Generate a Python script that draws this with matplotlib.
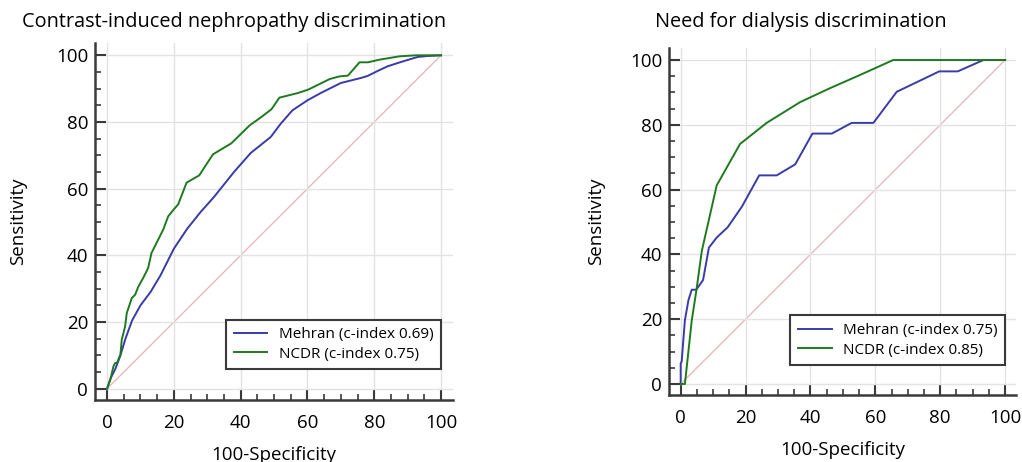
import matplotlib.pyplot as plt
import numpy as np

plt.rcParams['font.family'] = ['Open Sans', 'DejaVu Sans']

# contrast-induced nephropathy panel
cin_mehran_x = [0, 1, 2.5, 4, 5.5, 7.5, 10, 13, 16, 20, 24, 28, 32, 38, 43, 49, 52, 55.5, 60, 64, 70, 76, 78, 81, 84, 88, 93, 96, 100]
cin_mehran_y = [0, 3, 6, 10, 15, 20.5, 25, 29, 34, 42, 48, 53, 57.5, 65, 70.7, 75.5, 79.5, 83.5, 86.5, 88.7, 91.7, 93.2, 93.8, 95.3, 96.7, 98, 99.5, 99.8, 100]
cin_ncdr_x = [0, 1, 1.9, 2.4, 3, 4, 4.4, 5.4, 5.9, 7.4, 8.4, 9.4, 10.8, 12.3, 13.3, 14.3, 15.3, 16.8, 18.3, 19.9, 21.3, 23.8, 27.6, 31.7, 37.2, 42.7, 45.8, 49.2, 51.6, 57.2, 60.2, 66.7, 69.7, 72.1, 75.6, 78.1, 81.6, 87.6, 92.5, 100]
cin_ncdr_y = [0, 2.8, 6.7, 7.7, 7.8, 10.3, 14.7, 18.7, 22.7, 27.2, 28.2, 30.7, 33.2, 36.2, 40.7, 42.7, 44.7, 47.7, 51.7, 53.7, 55.3, 61.8, 64, 70.3, 73.6, 79, 81.2, 83.8, 87.3, 88.7, 89.7, 92.9, 93.7, 93.9, 97.9, 97.9, 98.7, 99.7, 100, 100]

# need for dialysis panel
dia_mehran_x = [0, 0, 0.3, 1.3, 2.4, 3.4, 4.8, 6.9, 8.7, 11.1, 14.5, 18.9, 24.2, 29.6, 35.3, 40.6, 46.6, 52.7, 59.4, 66.6, 79.7, 85.4, 93.3, 100]
dia_mehran_y = [0, 6.4, 6.9, 19.7, 25.9, 29.1, 29.1, 32.1, 42.1, 45.2, 48.4, 54.8, 64.4, 64.4, 67.8, 77.3, 77.3, 80.6, 80.6, 90.2, 96.5, 96.5, 100, 100]
dia_ncdr_x = [0, 1.3, 3.4, 4.9, 6.5, 11.1, 18.3, 26.5, 36.8, 46, 55.3, 65.5, 100]
dia_ncdr_y = [0, 0, 19.5, 29.3, 41, 61.3, 74.1, 80.6, 87, 91.3, 95.4, 100, 100]

titles = ["Contrast-induced nephropathy discrimination", "Need for dialysis discrimination"]
labels = [["Mehran (c-index 0.69)", "NCDR (c-index 0.75)"],
          ["Mehran (c-index 0.75)", "NCDR (c-index 0.85)"]]

blue = "#3a3aa8"
green = "#1f7a1f"
dark = "#3a3a3a"

fig = plt.figure(figsize=(10.22, 4.62), dpi=100)
ax1 = fig.add_axes([0.093, 0.134, 0.350, 0.773])
ax2 = fig.add_axes([0.6546, 0.145, 0.340, 0.751])

panels = [(ax1, cin_mehran_x, cin_mehran_y, cin_ncdr_x, cin_ncdr_y, 21),
          (ax2, dia_mehran_x, dia_mehran_y, dia_ncdr_x, dia_ncdr_y, 18)]

for i, (ax, mx, my, nx, ny, ypad) in enumerate(panels):
    ax.plot([0, 100], [0, 100], color="#e6b4b4", lw=0.9, zorder=1)
    ax.plot(mx, my, color=blue, lw=1.4, label=labels[i][0], zorder=3)
    ax.plot(nx, ny, color=green, lw=1.4, label=labels[i][1], zorder=3)
    ax.set_xlim(-3.6, 103.5)
    ax.set_ylim(-3.4, 103.7)
    ax.set_xticks(np.arange(0, 101, 20))
    ax.set_yticks(np.arange(0, 101, 20))
    ax.set_xticks(np.arange(0, 101, 5), minor=True)
    ax.set_yticks(np.arange(0, 101, 5), minor=True)
    ax.grid(which='major', color="#e3e3e3", lw=1.0, zorder=0)
    for s in ['top', 'right']:
        ax.spines[s].set_visible(False)
    for s in ['left', 'bottom']:
        ax.spines[s].set_color(dark)
        ax.spines[s].set_linewidth(1.8)
    ax.tick_params(which='major', direction='in', length=8, width=1.5, color=dark, labelsize=13.5)
    ax.tick_params(which='minor', direction='in', length=4, width=1.2, color=dark)
    ax.tick_params(axis='x', which='major', pad=10)
    ax.tick_params(axis='y', which='major', pad=5)
    ax.set_xlabel("100-Specificity", fontsize=13.5, labelpad=10)
    ax.set_ylabel("Sensitivity", fontsize=13.5, labelpad=ypad)
    leg = ax.legend(loc='lower right', bbox_to_anchor=(100, 5.8), bbox_transform=ax.transData,
                    fontsize=11, fancybox=False, framealpha=1, borderaxespad=0,
                    handlelength=2.2, handletextpad=0.75, borderpad=0.5, labelspacing=0.3)
    leg.get_frame().set_edgecolor(dark)
    leg.get_frame().set_linewidth(1.5)

fig.text(0.229, 0.952, titles[0], fontsize=14.3, ha='center', va='center')
fig.text(0.784, 0.952, titles[1], fontsize=14.3, ha='center', va='center')

fig.savefig("out.png", dpi=100)
